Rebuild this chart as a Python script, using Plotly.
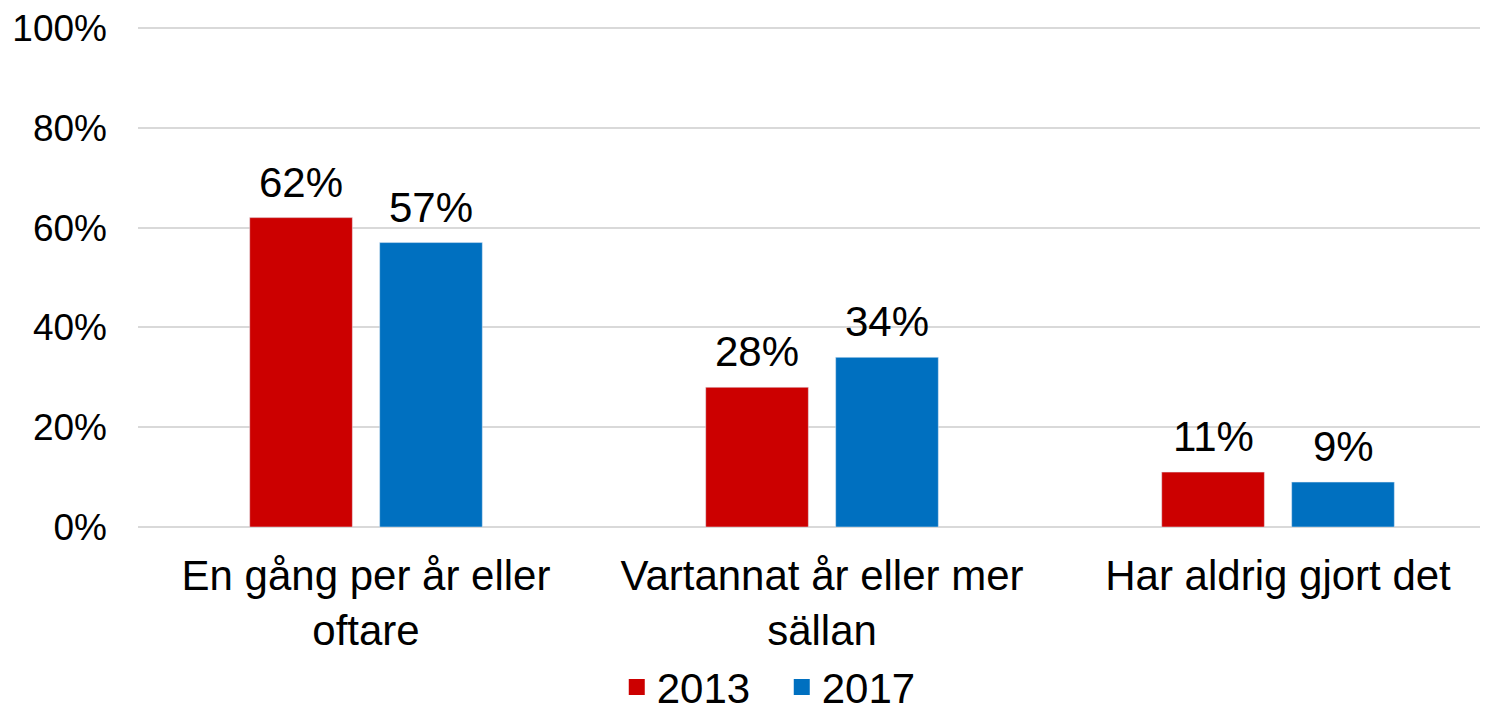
import plotly.graph_objects as go

categories = ["En gång per år eller<br>oftare", "Vartannat år eller mer<br>sällan", "Har aldrig gjort det"]
years = ["2013", "2017"]
values_2013 = [62, 28, 11]
values_2017 = [57, 34, 9]
y_ticks = [0, 20, 40, 60, 80, 100]
colors = ["#CC0000", "#0070C0"]

font = "Liberation Sans, Arial, sans-serif"

fig = go.Figure()
for name, vals, col, shift in [(years[0], values_2013, colors[0], -65), (years[1], values_2017, colors[1], 65)]:
    fig.add_bar(x=categories, y=vals, name=name, marker_color=col, showlegend=False)
    # legend entry with a bigger square symbol
    fig.add_scatter(x=[None], y=[None], mode="markers", name=name,
                    marker=dict(symbol="square", size=22, color=col))
    for c, v in zip(categories, vals):
        fig.add_annotation(x=c, y=v, text=f"{v}%", showarrow=False, xshift=shift,
                           yanchor="bottom", yshift=10, font=dict(size=42, color="#000000"))

# page body adds an 8px offset, margins are compensated for it
fig.update_layout(
    width=1488, height=715,
    margin=dict(l=130, r=0, t=18, b=196),
    plot_bgcolor="white", paper_bgcolor="white",
    font=dict(family=font, size=42, color="#000000"),
    barmode="group", bargap=0.43, bargroupgap=0.21,
    legend=dict(orientation="h", xref="container", x=0.52, xanchor="center",
                yref="container", y=0.05, yanchor="middle", entrywidth=120,
                font=dict(size=42), traceorder="normal", itemsizing="trace"),
)
fig.update_xaxes(range=[-0.5, 2.478], showline=False, ticks="", tickfont=dict(size=42),
                 automargin=False, ticklabelstandoff=20)
fig.update_yaxes(range=[0, 100.4], tickvals=y_ticks, ticktext=[f"{t}%" for t in y_ticks],
                 gridcolor="#D9D9D9", gridwidth=1.5, zeroline=True, zerolinecolor="#D9D9D9",
                 zerolinewidth=1.5, tickfont=dict(size=37), ticklabelstandoff=30,
                 ticklabeloverflow="allow", automargin=False)

fig.write_html("out.html")
